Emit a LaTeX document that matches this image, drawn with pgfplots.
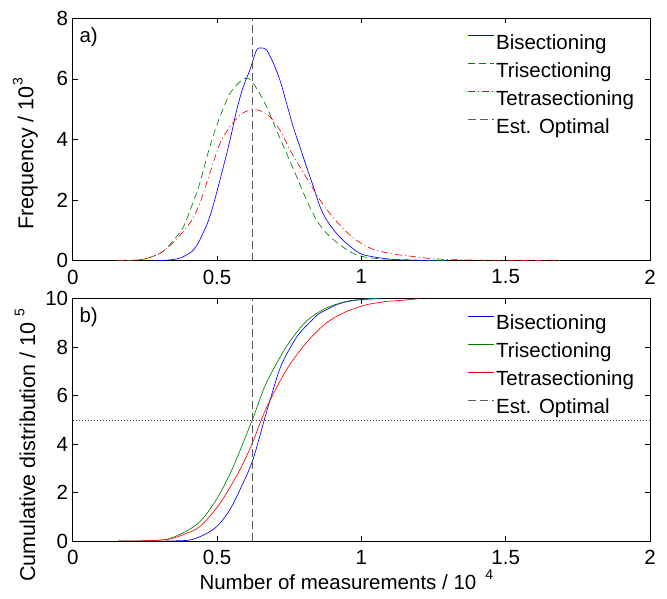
\documentclass[border=0pt]{standalone}
\usepackage{fontspec}
\setmainfont{Liberation Sans}
\usepackage{pgfplots}
\pgfplotsset{compat=1.18}
\newcommand\ff{\fontsize{20.5}{24}\selectfont}
\newcommand\fl{\fontsize{21.5}{25}\selectfont}
\newcommand\st{\rule[-5pt]{0pt}{20pt}}
\newcommand\tenpow[2]{10\hspace{#2}\raisebox{0.5em}{\fontsize{14}{14}\selectfont #1}}
\definecolor{mblue}{rgb}{0,0,1}
\definecolor{mgreen}{rgb}{0,0.5,0}
\definecolor{mred}{rgb}{1,0,0}
\definecolor{mgray}{rgb}{0.35,0.35,0.35}
\pgfplotsset{legend image code/.code={\draw[#1] (0pt,7pt) -- (26pt,7pt);}}
\pgfplotsset{
  myax/.style={
    scale only axis, width=577.3pt, height=242.4pt,
    xmin=0, xmax=2, xtick={0,0.5,1,1.5,2},
    tick align=inside, tick pos=both, major tick length=5pt,
    axis line style={line width=0.6pt},
    every tick/.style={black, line width=0.6pt},
    /pgf/number format/assume math mode=true,
    every tick label/.append style={font=\ff, inner sep=0pt},
    xticklabel style={yshift=-9pt},
    yticklabel style={xshift=-4.4pt},
    legend style={draw=none, fill=none, at={(0.683,0.942)}, anchor=north west,
      font=\ff, row sep=7.5pt, inner sep=0pt},
    legend cell align=left,
  },
}
\begin{document}
\begin{tikzpicture}
\useasboundingbox (0,0) rectangle (667pt,599pt);
% ---------------- top panel ----------------
\begin{axis}[myax, at={(72.7pt,338.3pt)}, anchor=south west,
  ymin=0, ymax=8, ytick={0,2,4,6,8},
  ylabel={\fl Frequency / \tenpow{3}{1pt}},
  ylabel style={at={(axis description cs:-0.068,0.442)}, anchor=base},
]
\addplot[color=mblue, line width=0.65pt, smooth] coordinates {
(0.28,0) (0.33,0.02) (0.37,0.08) (0.40,0.22) (0.418,0.35) (0.44,0.68)
(0.475,1.45) (0.51,2.66) (0.545,3.98) (0.568,4.97) (0.591,5.74) (0.614,6.3)
(0.637,6.95) (0.655,7.02) (0.672,6.95) (0.695,6.52) (0.718,5.96) (0.741,5.19)
(0.764,4.42) (0.787,3.76) (0.81,3.1) (0.834,2.44) (0.857,1.78) (0.88,1.34)
(0.914,0.9) (0.949,0.57) (0.995,0.24) (1.04,0.13) (1.11,0.04) (1.2,0.01) (1.3,0)};
\addlegendentry{\st Bisectioning}
\addplot[color=mgreen, line width=0.65pt, smooth, dash pattern=on 7pt off 4pt] coordinates {
(0.152,0) (0.2,0.01) (0.25,0.06) (0.302,0.24) (0.33,0.46) (0.36,0.8)
(0.384,1.12) (0.42,2.0) (0.44,2.55) (0.475,3.76) (0.51,4.75) (0.545,5.52)
(0.58,5.91) (0.608,6.02) (0.637,5.69) (0.672,5.08) (0.706,4.31) (0.741,3.54)
(0.776,2.77) (0.81,2.0) (0.845,1.34) (0.88,0.9) (0.926,0.52) (0.972,0.24)
(1.018,0.11) (1.09,0.05) (1.2,0.02) (1.3,0)};
\addlegendentry{\st Trisectioning}
\addplot[color=mred, line width=0.65pt, smooth, dash pattern=on 7pt off 3pt on 1pt off 3pt] coordinates {
(0.152,0) (0.2,0.01) (0.25,0.06) (0.302,0.24) (0.357,0.68) (0.41,1.3)
(0.44,1.89) (0.475,2.88) (0.51,3.87) (0.545,4.42) (0.58,4.81) (0.614,4.97)
(0.649,4.95) (0.683,4.75) (0.718,4.31) (0.753,3.65) (0.787,3.1) (0.822,2.55)
(0.857,2.0) (0.891,1.56) (0.926,1.17) (0.961,0.84) (0.995,0.6) (1.04,0.38)
(1.11,0.22) (1.17,0.15) (1.23,0.08) (1.3,0.04) (1.4,0.02) (1.5,0.01) (1.7,0)};
\addlegendentry{\st Tetrasectioning}
\addplot[color=mgray, line width=0.9pt, dash pattern=on 8pt off 4pt] coordinates {(0.6225,0) (0.6225,8)};
\addlegendentry{\st Est. Optimal}
\node[anchor=north west, inner sep=0pt, font=\ff] at (rel axis cs:0,1) [xshift=6.6pt, yshift=-9.5pt] {a)};
\end{axis}
% ---------------- bottom panel ----------------
\begin{axis}[myax, at={(72.7pt,58pt)}, anchor=south west,
  ymin=0, ymax=10, ytick={0,2,4,6,8,10},
  ylabel={\fl Cumulative distribution / \tenpow{5}{6pt}},
  ylabel style={at={(axis description cs:-0.065,0.395)}, anchor=base},
  xlabel={\ff Number of measurements / \tenpow{4}{9pt}},
  xlabel style={at={(axis description cs:0.474,0)}, anchor=base, yshift=-49pt},
]
\addplot[color=mblue, line width=0.65pt, smooth] coordinates {
(0.32,0) (0.40,0.03) (0.441,0.18) (0.48,0.42) (0.51,0.73) (0.545,1.3)
(0.579,2.1) (0.624,3.34) (0.67,5.26) (0.716,7.05) (0.75,7.9) (0.785,8.56)
(0.82,9.0) (0.854,9.38) (0.924,9.79) (0.993,9.95) (1.07,10)};
\addlegendentry{\st Bisectioning}
\addplot[color=mgreen, line width=0.65pt, smooth] coordinates {
(0.157,0) (0.25,0.01) (0.33,0.08) (0.40,0.45) (0.441,0.8) (0.475,1.3)
(0.51,1.96) (0.556,3.06) (0.624,5.05) (0.67,6.5) (0.74,8.01) (0.808,9.05)
(0.877,9.6) (0.947,9.88) (1.016,9.99) (1.06,10)};
\addlegendentry{\st Trisectioning}
\addplot[color=mred, line width=0.65pt, smooth] coordinates {
(0.157,0) (0.25,0.01) (0.33,0.07) (0.38,0.25) (0.441,0.6) (0.51,1.55)
(0.579,2.93) (0.624,4.09) (0.67,5.47) (0.74,7.05) (0.808,8.16) (0.877,8.98)
(0.947,9.46) (1.016,9.74) (1.086,9.88) (1.132,9.92) (1.2,10)};
\addlegendentry{\st Tetrasectioning}
\addplot[color=mgray, line width=0.9pt, dash pattern=on 8pt off 4pt] coordinates {(0.6225,0) (0.6225,10)};
\addlegendentry{\st Est. Optimal}
\addplot[color=black!75, line width=0.5pt, dash pattern=on 0.8pt off 2.2pt, forget plot] coordinates {(0,5) (2,5)};
\node[anchor=north west, inner sep=0pt, font=\ff] at (rel axis cs:0,1) [xshift=6.6pt, yshift=-8.5pt] {b)};
\end{axis}
\end{tikzpicture}
\end{document}
